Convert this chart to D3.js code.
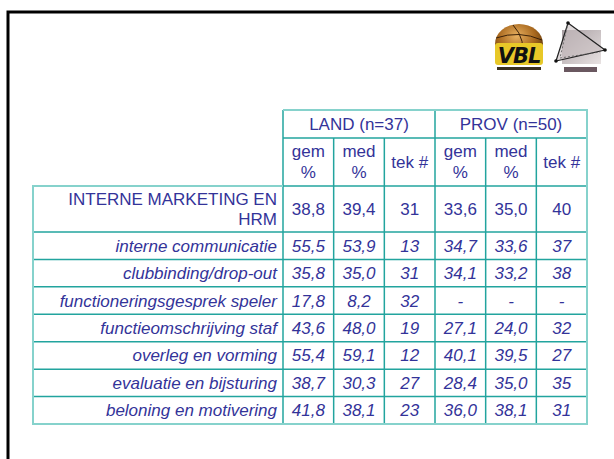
<!DOCTYPE html>
<html>
<head>
<meta charset="utf-8">
<script src="https://cdn.jsdelivr.net/npm/d3@7"></script>
<style>
  body { margin: 0; background: #fff; }
  svg { display: block; }
  .cell { font-family: "Liberation Sans", Arial, sans-serif; font-size: 17px; fill: #333399; }
</style>
</head>
<body>
<div id="chart"></div>
<script>
//---------------- data ----------------------
var groups = ["LAND (n=37)", "PROV (n=50)"];
var subHeads = [["gem", "%"], ["med", "%"], ["tek #"]];
var mainLabel = ["INTERNE MARKETING EN", "HRM"];
var mainValues = [38.8, 39.4, 31, 33.6, 35.0, 40];
var rowLabels = ["interne communicatie", "clubbinding/drop-out", "functioneringsgesprek speler",
                 "functieomschrijving staf", "overleg en vorming", "evaluatie en bijsturing",
                 "beloning en motivering"];
var landGem = [55.5, 35.8, 17.8, 43.6, 55.4, 38.7, 41.8];
var landMed = [53.9, 35.0, 8.2, 48.0, 59.1, 30.3, 38.1];
var landTek = [13, 31, 32, 19, 12, 27, 23];
var provGem = [34.7, 34.1, null, 27.1, 40.1, 28.4, 36.0];
var provMed = [33.6, 33.2, null, 24.0, 39.5, 35.0, 38.1];
var provTek = [37, 38, null, 32, 27, 35, 31];

//---------------- layout ----------------------
var w = 614, h = 459;
var tableLeft = 33, labelRight = 283, tableRight = 587;
var top0 = 110, top1 = 138, headBottom = 186, mainBottom = 232, tableBottom = 424;
var lineColor = "#22a49e", outerColor = "#86d2cc";

var nl = d3.formatLocale({decimal: ",", thousands: ".", grouping: [3], currency: ["", ""]});
var fmtDec = nl.format(".1f");
var fmtInt = d3.format("d");
function fmt(v, col) {
	if (v == null) return "-";
	return (col % 3 == 2) ? fmtInt(v) : fmtDec(v);
}

var cols = d3.range(6);
var xScale = d3.scaleBand().domain(cols).range([labelRight, tableRight]);
var gScale = d3.scaleBand().domain([0, 1]).range([labelRight, tableRight]);
var yScale = d3.scaleBand().domain(d3.range(rowLabels.length)).range([mainBottom, tableBottom]);

var rows = rowLabels.map(function(l, i) {
	return {label: l, values: [landGem[i], landMed[i], landTek[i], provGem[i], provMed[i], provTek[i]]};
});

var svg = d3.select("#chart").append("svg").attr("width", w).attr("height", h);

// slide frame
svg.append("path")
	.attr("d", "M8," + h + "V12H" + w)
	.attr("fill", "none").attr("stroke", "#000").attr("stroke-width", 3);

//---------------- logos ----------------------
var defs = svg.append("defs");
var ball = defs.append("radialGradient").attr("id", "ball").attr("cx", "45%").attr("cy", "30%").attr("r", "70%");
ball.append("stop").attr("offset", "0%").attr("stop-color", "#e8b060");
ball.append("stop").attr("offset", "55%").attr("stop-color", "#a8681e");
ball.append("stop").attr("offset", "100%").attr("stop-color", "#4a2a08");
var grey = defs.append("linearGradient").attr("id", "grey").attr("x1", "0").attr("y1", "0").attr("x2", "1").attr("y2", "1");
grey.append("stop").attr("offset", "0%").attr("stop-color", "#a89ea2");
grey.append("stop").attr("offset", "100%").attr("stop-color", "#e8e2e2");

var vbl = svg.append("g").attr("transform", "translate(519,0)");
vbl.append("ellipse").attr("cy", 44).attr("rx", 24).attr("ry", 20).attr("fill", "url(#ball)");
vbl.append("path").attr("d", "M-23,38Q0,30 23,40M-6,25Q8,40 2,60").attr("fill", "none").attr("stroke", "#3a2008").attr("stroke-width", 1);
vbl.append("rect").attr("x", -24).attr("y", 43).attr("width", 48).attr("height", 22).attr("rx", 3).attr("fill", "#e8c828");
vbl.append("text").attr("x", 0).attr("y", 63).attr("text-anchor", "middle")
	.style("font-family", "DejaVu Sans, sans-serif").style("font-weight", "bold").style("font-style", "italic")
	.style("font-size", "21px").style("letter-spacing", "-1px").attr("fill", "#111")
	.text("VBL");
vbl.append("rect").attr("x", -22).attr("y", 67).attr("width", 44).attr("height", 3).attr("fill", "#3a3020");

var lg = svg.append("g");
lg.append("rect").attr("x", 562).attr("y", 30).attr("width", 39).attr("height", 34).attr("fill", "url(#grey)");
lg.append("path").attr("d", "M568,23L605,50L556,61Z").attr("fill", "#c8bec0").attr("fill-opacity", 0.6)
	.attr("stroke", "#222").attr("stroke-width", 1.2);
lg.append("path").attr("d", "M568,23L560,58M560,58L600,52").attr("fill", "none").attr("stroke", "#555").attr("stroke-width", 0.8).attr("stroke-dasharray", "2,2");
lg.append("circle").attr("cx", 568).attr("cy", 23).attr("r", 1.8).attr("fill", "#111");
lg.append("circle").attr("cx", 605).attr("cy", 50).attr("r", 1.8).attr("fill", "#111");
lg.append("circle").attr("cx", 556).attr("cy", 61).attr("r", 1.8).attr("fill", "#111");
lg.append("rect").attr("x", 564).attr("y", 67).attr("width", 33).attr("height", 5).attr("fill", "#6a5860");

//---------------- table lines ----------------------
var lines = svg.append("g").attr("stroke", lineColor).attr("stroke-width", 1.5);
// horizontal
[top1, headBottom].forEach(function(y) {
	lines.append("line").attr("x1", y == headBottom ? tableLeft : labelRight).attr("x2", tableRight).attr("y1", y).attr("y2", y);
});
yScale.domain().forEach(function(i) {
	if (i == 0) return;
	lines.append("line").attr("x1", tableLeft).attr("x2", tableRight).attr("y1", yScale(i)).attr("y2", yScale(i));
});
lines.append("line").attr("x1", tableLeft).attr("x2", tableRight).attr("y1", mainBottom).attr("y2", mainBottom);
// vertical
cols.forEach(function(c) {
	var x = xScale(c);
	var y1 = (c % 3 == 0) ? top0 : top1;
	lines.append("line").attr("x1", x).attr("x2", x).attr("y1", y1).attr("y2", tableBottom);
});
// outer border
svg.append("path")
	.attr("d", "M" + labelRight + "," + top0 + "H" + tableRight + "V" + tableBottom + "H" + tableLeft + "V" + headBottom + "H" + labelRight)
	.attr("fill", "none").attr("stroke", outerColor).attr("stroke-width", 2);

//---------------- header text ----------------------
var txt = svg.append("g").attr("class", "cell");
txt.selectAll(".grp").data(groups).enter().append("text")
	.attr("class", "cell")
	.attr("x", function(d, i) { return gScale(i) + gScale.bandwidth() / 2; })
	.attr("y", (top0 + top1) / 2).attr("dy", "0.35em").attr("text-anchor", "middle")
	.text(function(d) { return d; });

cols.forEach(function(c) {
	var lines2 = subHeads[c % 3];
	var cx = xScale(c) + xScale.bandwidth() / 2;
	var mid = (top1 + headBottom) / 2;
	lines2.forEach(function(s, k) {
		txt.append("text").attr("class", "cell")
			.attr("x", cx)
			.attr("y", mid + (k - (lines2.length - 1) / 2) * 21)
			.attr("dy", "0.35em").attr("text-anchor", "middle")
			.text(s);
	});
});

//---------------- main row ----------------------
var mainMid = (headBottom + mainBottom) / 2;
mainLabel.forEach(function(s, k) {
	txt.append("text").attr("class", "cell")
		.attr("x", labelRight - 6).attr("y", mainMid + (k - 0.5) * 20)
		.attr("dy", "0.35em").attr("text-anchor", "end").text(s);
});
txt.selectAll(".mainVal").data(mainValues).enter().append("text")
	.attr("class", "cell")
	.attr("x", function(d, i) { return xScale(i) + xScale.bandwidth() / 2; })
	.attr("y", mainMid).attr("dy", "0.35em").attr("text-anchor", "middle")
	.text(function(d, i) { return fmt(d, i); });

//---------------- detail rows ----------------------
var rowG = txt.selectAll(".row").data(rows).enter().append("g")
	.attr("transform", function(d, i) { return "translate(0," + (yScale(i) + yScale.bandwidth() / 2) + ")"; })
	.style("font-style", "italic");

rowG.append("text").attr("class", "cell")
	.attr("x", labelRight - 6).attr("dy", "0.35em").attr("text-anchor", "end")
	.text(function(d) { return d.label; });

rowG.selectAll(".v").data(function(d) { return d.values; }).enter().append("text")
	.attr("class", "cell")
	.attr("x", function(d, i) { return xScale(i) + xScale.bandwidth() / 2; })
	.attr("dy", "0.35em").attr("text-anchor", "middle")
	.text(function(d, i) { return fmt(d, i); });
</script>
</body>
</html>
